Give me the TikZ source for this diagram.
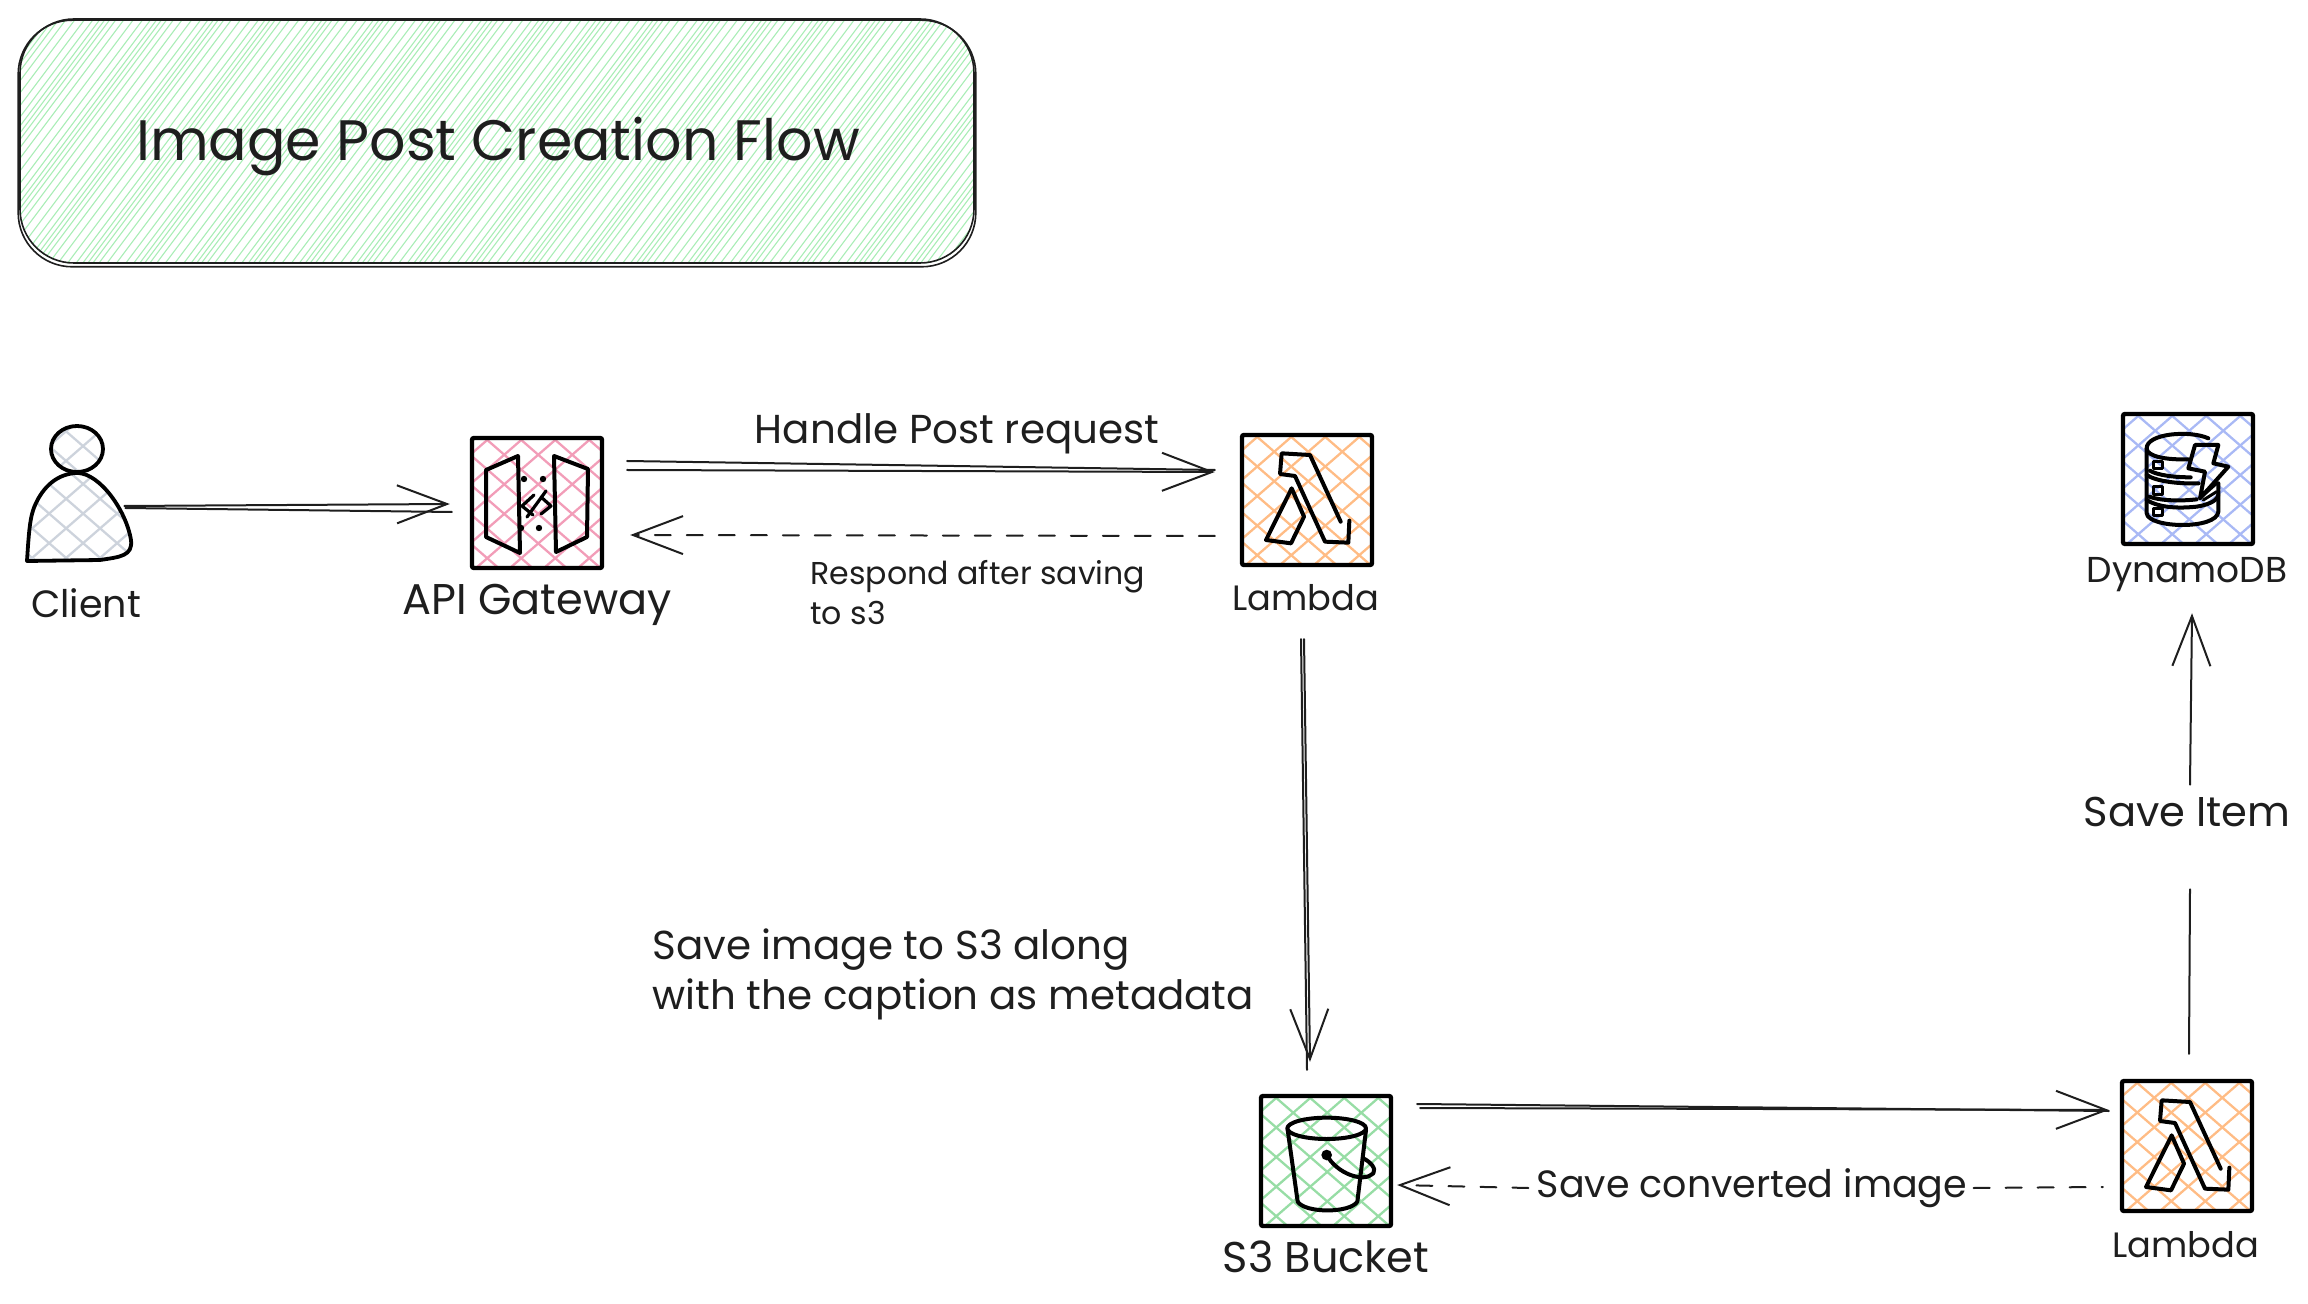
\documentclass[tikz,border=0pt]{standalone}
\usepackage{fontspec}
\setmainfont{Poppins}
\usetikzlibrary{arrows.meta}
\definecolor{ink}{HTML}{1E1E1E}
\definecolor{hgreen}{HTML}{A9EDB6}
\definecolor{hpink}{HTML}{F29DB8}
\definecolor{horange}{HTML}{FFBC85}
\definecolor{hblue}{HTML}{A9B9F5}
\definecolor{hleaf}{HTML}{97DDA5}
\definecolor{hgray}{HTML}{CDD3DC}
\tikzset{
  x=0.5pt,y=-0.5pt,
  iconbox/.style={draw=black,line width=2.2pt,rounded corners=1pt,minimum width=65pt,minimum height=65pt,inner sep=0pt},
  glyph/.style={draw=black,line width=2pt,line cap=round,line join=round},
  flow/.style={draw=ink,line width=1pt,line cap=round},
  tipped/.style={flow,-{Straight Barb[length=25pt,width=19pt,line width=1pt]}},
  ret/.style={tipped,dash pattern=on 8pt off 8pt},
  lab/.style={text=ink,inner sep=0pt,align=left},
  ref/.style={inner sep=0pt,minimum width=52pt,minimum height=67pt},
}
% crosshatch clipped to a rectangle or path already clipped
\newcommand\crosshatch[5]{%
  \foreach \k in {-6,...,6}{
    \draw[#5,line width=1.15pt] ({#1+\k*#3*34+13},#2) -- ++({#4*1.15},#4);
    \draw[#5,line width=1.15pt] ({#1+\k*#3*34+4},{#2+#4}) -- ++({#4*1.15},-#4);
  }}
\newcommand\boxhatch[3]{%
  \begin{scope}\clip (#1,#2) rectangle ++(130,130);\crosshatch{#1}{#2}{1}{130}{#3}\end{scope}}
\newcommand\lambdaglyph[2]{%
  \begin{scope}[shift={(#1,#2)},x=0.16667pt,y=-0.16667pt]
    \draw[glyph] (362,365)--(270,165)--(185,160)--(180,222)--(225,228)--(315,425)--(385,428)--(388,362);
    \draw[glyph] (215,265)--(138,420)--(213,430)--(252,350)--cycle;
  \end{scope}}
\begin{document}
\begin{tikzpicture}
\useasboundingbox (0,0) rectangle (2308,1304);
% title hatch
\begin{scope}
  \clip[rounded corners=27pt] (20,19) rectangle (974,264);
  \foreach \k in {0,...,170}{
    \pgfmathsetmacro\xx{-220+7.2*\k+3*sin(\k*47)}
    \draw[hgreen,line width=0.55pt] (\xx,270) -- ++(195,-260);
  }
\end{scope}
\node[draw=ink,line width=0.8pt,rounded corners=27pt,minimum width=477pt,minimum height=122pt,inner sep=0pt] (title) at (497,141) {};
\draw[ink,line width=0.8pt,rounded corners=27pt] ([shift={(-1,2)}]title.north west) rectangle ([shift={(1,3)}]title.south east);
\node[lab,font=\fontsize{28.5}{35}\selectfont] (titletext) at (498,147) {Image Post Creation Flow};

% hatching
\begin{scope}
  \clip (77,449) ellipse [x radius=26,y radius=23];
  \crosshatch{40}{420}{1}{60}{hgray}
\end{scope}
\begin{scope}
  \clip (27,561) .. controls (29,530) and (30,515) .. (36,503) .. controls (46,482) and (62,473) .. (78,473) .. controls (100,474) and (126,510) .. (131,540) .. controls (133,556) and (120,557) .. (100,560) -- cycle;
  \crosshatch{20}{470}{1}{95}{hgray}
\end{scope}
\boxhatch{472}{438}{hpink}
\boxhatch{1242}{435}{horange}
\boxhatch{2123}{414}{hblue}
\boxhatch{1261}{1096}{hleaf}
\boxhatch{2122}{1081}{horange}

% client
\node[ref] (client) at (79,494) {};
\draw[glyph,line width=1.9pt] (77,449) ellipse [x radius=26,y radius=23];
\draw[glyph,line width=1.9pt] (27,561) .. controls (29,530) and (30,515) .. (36,503) .. controls (46,482) and (62,473) .. (78,473) .. controls (100,474) and (126,510) .. (131,540) .. controls (133,556) and (120,557) .. (100,560) -- cycle;

% icon boxes
\node[iconbox] (gw) at (537,503) {};
\node[iconbox] (lam) at (1307,500) {};
\node[iconbox] (ddb) at (2188,479) {};
\node[iconbox] (sthree) at (1326,1161) {};
\node[iconbox] (lamtwo) at (2187,1146) {};

% API gateway glyph
\draw[glyph] (518,456)--(486,470)--(486,537)--(520,553)--cycle;
\draw[glyph] (554,456)--(588,469)--(587,537)--(556,552)--cycle;
\fill (524,479) circle[radius=3.2] (543,479) circle[radius=3.2] (521,528) circle[radius=3.2] (539,528) circle[radius=3.2];
\draw[glyph,line width=1.6pt] (534,495)--(522,506)--(533,515) (546,491)--(527,517) (541,497)--(551,506)--(541,514);

\lambdaglyph{1220}{400}
\lambdaglyph{2100}{1047}

% S3 glyph
\begin{scope}[shift={(1230,1080)},x=0.16667pt,y=-0.16667pt]
  \draw[glyph] (290,145) ellipse [x radius=118,y radius=32];
  \draw[glyph] (173,150)--(203,365) .. controls (225,400) and (360,400) .. (382,365)--(408,150);
  \fill (290,225) circle[radius=16];
  \draw[glyph] (290,225) .. controls (320,280) and (400,310) .. (430,280) .. controls (440,265) and (420,245) .. (400,235);
\end{scope}

% DynamoDB glyph
\begin{scope}[shift={(2100,400)},x=0.16667pt,y=-0.16667pt]
  \draw[glyph] (325,115) .. controls (270,90) and (140,100) .. (140,145) .. controls (140,170) and (200,180) .. (265,178);
  \draw[glyph] (140,145)--(140,340) .. controls (145,385) and (350,390) .. (355,335)--(355,250);
  \draw[glyph] (150,212) .. controls (170,225) and (220,232) .. (272,232);
  \draw[glyph] (140,225) .. controls (170,245) and (240,252) .. (296,250);
  \draw[glyph] (148,290) .. controls (180,302) and (240,304) .. (290,298);
  \draw[glyph] (140,300) .. controls (180,325) and (240,325) .. (290,320) .. controls (320,315) and (350,305) .. (355,285);
  \draw[glyph,line width=1.5pt] (160,185) rectangle (187,207) (160,260) rectangle (187,282) (160,325) rectangle (187,347);
  \draw[glyph] (285,135)--(355,135)--(340,190)--(385,200)--(300,295)--(315,215)--(265,205)--cycle;
  \draw[glyph,line width=1.5pt] (305,290)--(350,250) (310,300)--(350,275);
\end{scope}

% labels
\node[lab,font=\fontsize{19}{22}\selectfont] (lclient) at (86,603) {Client};
\node[lab,font=\fontsize{21.5}{24}\selectfont] (lgw) at (537,605) {API Gateway};
\node[lab,font=\fontsize{17.6}{22}\selectfont] (llam) at (1306,598) {Lambda};
\node[lab,font=\fontsize{18}{22}\selectfont] (lddb) at (2187,575) {DynamoDB};
\node[lab,font=\fontsize{21.5}{22}\selectfont] (ls) at (1326,1257) {S3 Bucket};
\node[lab,font=\fontsize{17.6}{22}\selectfont] (llamtwo) at (2186,1245) {Lambda};
\node[lab,font=\fontsize{20.2}{24}\selectfont] (lhandle) at (957,434) {Handle Post request};
\node[lab,font=\fontsize{15.8}{20}\selectfont,anchor=north west] (lresp) at (810,560) {Respond after saving\\to s3};
\node[lab,font=\fontsize{20.2}{25}\selectfont,anchor=north west] (lsave) at (652,928) {Save image to S3 along\\with the caption as metadata};
\node[lab,font=\fontsize{19}{24}\selectfont] (lconv) at (1752,1188) {Save converted image};
\node[lab,font=\fontsize{20.8}{22}\selectfont] (litem) at (2187,812) {Save Item};

% connectors
\draw[tipped] ([shift={(-7,12)}]client.east) -- ([shift={(-20,1)}]gw.west);
\draw[flow] ([shift={(-6,14)}]client.east) -- ([shift={(-18,9)}]gw.west);

\draw[flow] ([shift={(23,-42)}]gw.east) -- ([shift={(-25,-30)}]lam.west);
\draw[tipped] ([shift={(23,-33)}]gw.east) -- ([shift={(-25,-28)}]lam.west);

\draw[ret] ([shift={(-25,36)}]lam.west) -- ([shift={(26,32)}]gw.east);

\draw[flow] ([shift={(-6,72)}]lam.south) -- ([shift={(-19,-24)}]sthree.north);
\draw[tipped] ([shift={(-3,72)}]lam.south) -- ([shift={(-16,-32)}]sthree.north);

\draw[flow] ([shift={(24,-57)}]sthree.east) -- ([shift={(-11,-35)}]lamtwo.west);
\draw[tipped] ([shift={(27,-53)}]sthree.east) -- ([shift={(-11,-36)}]lamtwo.west);

\draw[ret] ([xshift=-4pt]lconv.west) -- ([shift={(4,24)}]sthree.east);
\draw[flow,dash pattern=on 8pt off 8pt] ([xshift=3pt]lconv.east) -- ([shift={(-17,41)}]lamtwo.west);

\draw[flow] ([shift={(2,-25)}]lamtwo.north) -- ([shift={(3,62)}]litem.south);
\draw[tipped] ([shift={(3,-12)}]litem.north) -- ([shift={(4,67)}]ddb.south);
\end{tikzpicture}
\end{document}
